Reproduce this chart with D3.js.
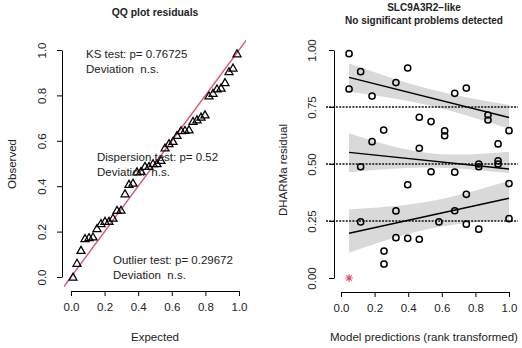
<!DOCTYPE html>
<html><head><meta charset="utf-8">
<script src="https://cdn.jsdelivr.net/npm/d3@7"></script>
<style>body{margin:0;background:#fff}svg{display:block;font-family:"Liberation Sans",Arial,Helvetica,sans-serif}</style>
</head><body><svg id="c" width="522" height="348"></svg>
<script>
// ---- data ----
const predRank = [0.048,0.117,0.397,0.327,0.048,0.185,0.466,0.536,0.254,0.185,0.466,0.117,
  0.677,0.746,0.875,0.875,0.617,0.617,1.0,0.935,0.820,0.820,0.935,0.935,0.536,0.397,
  0.327,0.117,0.327,0.397,0.466,0.256,0.256,0.677,1.0,0.746,0.677,0.583,0.746,0.820,1.0,0.048];
const residual = [0.984,0.905,0.921,0.857,0.829,0.798,0.705,0.686,0.649,0.598,0.569,0.488,
  0.810,0.833,0.715,0.693,0.645,0.624,0.646,0.588,0.500,0.488,0.514,0.500,0.466,0.409,
  0.294,0.246,0.177,0.174,0.170,0.118,0.061,0.464,0.414,0.367,0.295,0.246,0.236,0.214,0.260,0.0];
const xTicks = [0,0.2,0.4,0.6,0.8,1.0];
const yTicksQQ = [0,0.2,0.4,0.6,0.8,1.0];
const yTicksRes = [0,0.25,0.5,0.75,1.0];
const quantiles = [0.25,0.5,0.75];
const qLineX = [0.048,1.0];
const qLineY = {0.25:[0.196,0.350], 0.5:[0.551,0.478], 0.75:[0.880,0.704]};
const bandX = [0.048,0.52,1.0];
const bandUpper = {0.25:[0.301,0.335,0.427], 0.5:[0.635,0.548,0.554], 0.75:[0.941,0.830,0.759]};
const bandLower = {0.25:[0.111,0.215,0.255], 0.5:[0.464,0.485,0.460], 0.75:[0.817,0.758,0.655]};
const testText = ["KS test: p= 0.76725","Dispersion test: p= 0.52","Outlier test: p= 0.29672"];
const devText = "Deviation  n.s.";
const titleL = "QQ plot residuals";
const titleR = ["SLC9A3R2−like","No significant problems detected"];

// ---- drawing ----
const svg = d3.select("#c");
const TXT = "#222";
const FS = 11.5;

// scales
const xL = d3.scaleLinear().domain([0,1]).range([71,239]);
const yL = d3.scaleLinear().domain([0,1]).range([277,50]);
const xR = d3.scaleLinear().domain([0,1]).range([341,509]);
const yR = d3.scaleLinear().domain([0,1]).range([278,50]);

function styleAxis(g){
  g.selectAll("path.domain").attr("stroke","#000").attr("stroke-width",1);
  g.selectAll(".tick line").attr("stroke","#000").attr("stroke-width",1);
  g.selectAll("text").attr("fill",TXT).style("font-size",FS+"px").style("font-family",'"Liberation Sans",Arial,sans-serif');
}
function xAxis(scale, y, fmt){
  const g = svg.append("g").attr("transform",`translate(0,${y})`)
    .call(d3.axisBottom(scale).tickValues(xTicks).tickFormat(fmt).tickSize(5).tickSizeOuter(0).tickPadding(7));
  styleAxis(g);
}
function yAxis(scale, x, ticks, fmt, off){
  const g = svg.append("g").attr("transform",`translate(${x},0)`)
    .call(d3.axisLeft(scale).tickValues(ticks).tickFormat(fmt).tickSize(5).tickSizeOuter(0));
  styleAxis(g);
  g.selectAll(".tick text").attr("x",null).attr("dy",null).attr("y",null)
    .attr("text-anchor","middle").attr("transform",`translate(${off},0) rotate(-90)`);
}

// ---------- Left panel: QQ plot ----------
const f1 = d3.format(".1f");
xAxis(xL, 291, f1);
yAxis(yL, 62, yTicksQQ, f1, -16);

svg.append("defs").append("clipPath").attr("id","clipL")
  .append("rect").attr("x",64).attr("y",40).attr("width",182).attr("height",247);
svg.append("line").attr("clip-path","url(#clipL)")
  .attr("x1",xL(-0.2)).attr("y1",yL(-0.2)).attr("x2",xL(1.2)).attr("y2",yL(1.2))
  .attr("stroke","#DF536B").attr("stroke-width",1.4);

const sorted = residual.slice().sort(d3.ascending);
const n = sorted.length;
const qq = sorted.map((v,i)=>({e:(i+0.5)/n, o:v}));
const tri = d3.symbol().type(d3.symbolTriangle).size(28);
svg.append("g").selectAll("path").data(qq).join("path")
  .attr("d",tri).attr("transform",d=>`translate(${xL(d.e)},${yL(d.o)+0.8})`)
  .attr("fill","none").attr("stroke","#000").attr("stroke-width",1.25);

svg.append("text").attr("x",155).attr("y",16).attr("text-anchor","middle")
  .style("font-weight","bold").style("font-size","10.4px").attr("fill",TXT).text(titleL);
svg.append("text").attr("x",155).attr("y",341).attr("text-anchor","middle")
  .style("font-size",FS+"px").attr("fill",TXT).text("Expected");
svg.append("text").attr("transform","translate(16,164) rotate(-90)").attr("text-anchor","middle")
  .style("font-size",FS+"px").attr("fill",TXT).text("Observed");

const testPos = [[86,58],[97,161],[113,263.5]];
testText.forEach((t,i)=>{
  const [x,y] = testPos[i];
  svg.append("text").attr("x",x).attr("y",y).style("font-size",FS+"px").attr("fill",TXT).text(t);
  svg.append("text").attr("x",x).attr("y",y+15).style("font-size",FS+"px").style("white-space","pre")
    .attr("xml:space","preserve").attr("fill",TXT).text(devText);
});

// ---------- Right panel: residual vs predicted ----------
const f2 = d3.format(".2f");
// bands
const area = d3.area().x(d=>xR(d.x)).y0(d=>yR(d.lo)).y1(d=>yR(d.hi)).curve(d3.curveNatural);
quantiles.forEach(q=>{
  const pts = bandX.map((x,i)=>({x, lo:bandLower[q][i], hi:bandUpper[q][i]}));
  svg.append("path").attr("d",area(pts)).attr("fill","#d9d9d9").attr("stroke","none");
});
// dashed quantile reference lines
quantiles.forEach(q=>{
  svg.append("line").attr("x1",326).attr("x2",518).attr("y1",yR(q)).attr("y2",yR(q))
    .attr("stroke","#111").attr("stroke-width",1.3).attr("stroke-dasharray","2,1.3");
});
// regression lines
quantiles.forEach(q=>{
  svg.append("line").attr("x1",xR(qLineX[0])).attr("x2",xR(qLineX[1]))
    .attr("y1",yR(qLineY[q][0])).attr("y2",yR(qLineY[q][1]))
    .attr("stroke","#000").attr("stroke-width",1.5);
});

xAxis(xR, 292, f1);
yAxis(yR, 334, yTicksRes, f2, -18);

const pts = predRank.map((x,i)=>({x, y:residual[i], out: residual[i]===0 || residual[i]===1}));
svg.append("g").selectAll("circle").data(pts.filter(d=>!d.out)).join("circle")
  .attr("cx",d=>xR(d.x)).attr("cy",d=>yR(d.y)).attr("r",3.1)
  .attr("fill","none").attr("stroke","#000").attr("stroke-width",1.5);
const star = (r)=>`M${-r},0L${r},0M0,${-r}L0,${r}M${-r*0.71},${-r*0.71}L${r*0.71},${r*0.71}M${-r*0.71},${r*0.71}L${r*0.71},${-r*0.71}`;
svg.append("g").selectAll("path").data(pts.filter(d=>d.out)).join("path")
  .attr("d",star(3.8)).attr("transform",d=>`translate(${xR(d.x)},${yR(d.y)})`)
  .attr("stroke","#DF536B").attr("stroke-width",1.2).attr("fill","none");

svg.append("text").attr("x",424).attr("y",11).attr("text-anchor","middle")
  .style("font-weight","bold").style("font-size","10px").attr("fill",TXT).text(titleR[0]);
svg.append("text").attr("x",424).attr("y",23.5).attr("text-anchor","middle")
  .style("font-weight","bold").style("font-size","10px").attr("fill",TXT).text(titleR[1]);
svg.append("text").attr("x",424).attr("y",341).attr("text-anchor","middle")
  .style("font-size",FS+"px").attr("fill",TXT).text("Model predictions (rank transformed)");
svg.append("text").attr("transform","translate(287,170) rotate(-90)").attr("text-anchor","middle")
  .style("font-size",FS+"px").attr("fill",TXT).text("DHARMa residual");
</script></body></html>
